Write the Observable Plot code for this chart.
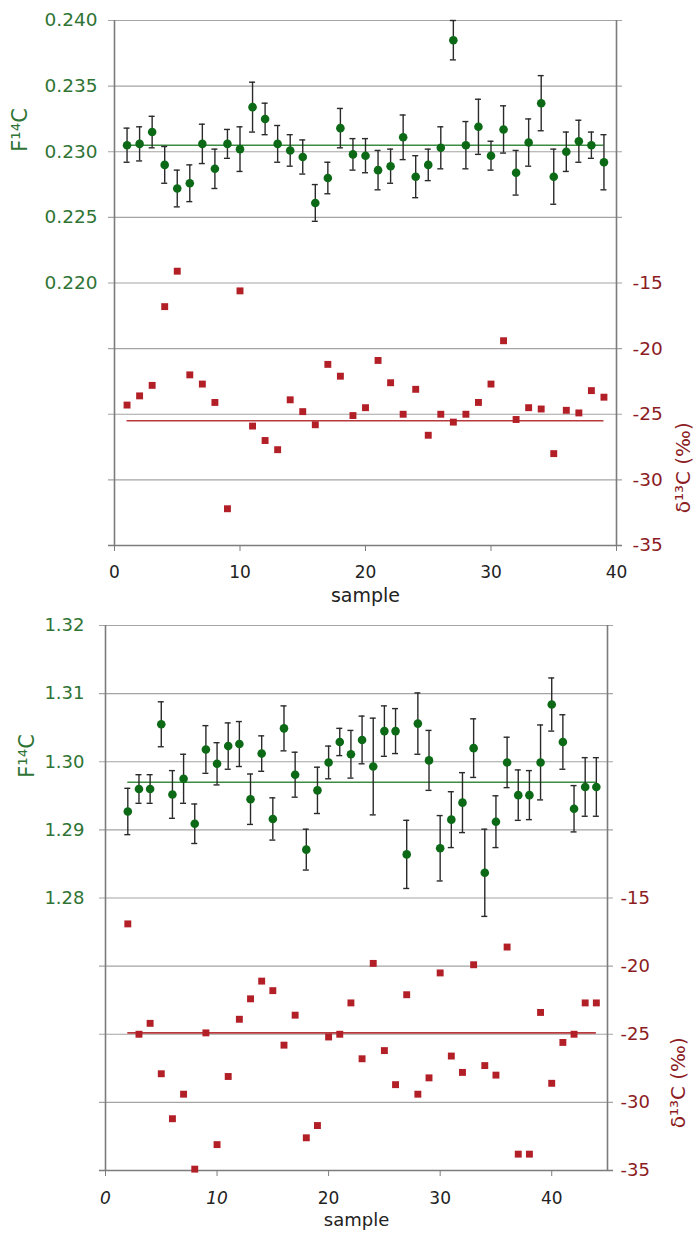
<!DOCTYPE html>
<html>
<head>
<meta charset="utf-8">
<script src="https://cdn.jsdelivr.net/npm/d3@7"></script>
<script src="https://cdn.jsdelivr.net/npm/@observablehq/plot@0.6"></script>
<style>
  body { margin: 0; background: #fff; }
  #chart { width: 695px; }
  #chart svg { display: block; }
</style>
</head>
<body>
<div id="chart"></div>
<script>
// ---------- Panel A (top) ----------
const samplesA = [1,2,3,4,5,6,7,8,9,10,11,12,13,14,15,16,17,18,19,20,21,22,23,24,25,26,27,28,29,30,31,32,33,34,35,36,37,38,39];
const f14A = [0.2305,0.2306,0.2315,0.2290,0.2272,0.2276,0.2306,0.2287,0.2306,0.2302,
              0.2334,0.2325,0.2306,0.2301,0.2296,0.2261,0.2280,0.2318,0.2298,0.2297,
              0.2286,0.2289,0.2311,0.2281,0.2290,0.2303,0.2385,0.2305,0.2319,0.2297,
              0.2317,0.2284,0.2307,0.2337,0.2281,0.2300,0.2308,0.2305,0.2292];
const f14ErrA = [0.0013,0.0013,0.0012,0.0014,0.0014,0.0014,0.0015,0.0015,0.0011,0.0017,
                 0.0019,0.0012,0.0014,0.0012,0.0013,0.0014,0.0012,0.0015,0.0012,0.0013,
                 0.0015,0.0013,0.0017,0.0016,0.0012,0.0016,0.0015,0.0018,0.0021,0.0011,
                 0.0018,0.0017,0.0018,0.0021,0.0021,0.0015,0.0016,0.0010,0.0021];
const d13A = [-24.3,-23.6,-22.8,-16.8,-14.1,-22.0,-22.7,-24.1,-32.2,-15.6,
              -25.9,-27.0,-27.7,-23.9,-24.8,-25.8,-21.2,-22.1,-25.1,-24.5,
              -20.9,-22.6,-25.0,-23.1,-26.6,-25.0,-25.6,-25.0,-24.1,-22.7,
              -19.4,-25.4,-24.5,-24.6,-28.0,-24.7,-24.9,-23.2,-23.7];
const f14MeanA = 0.2305;
const d13MeanA = -25.5;
const xDomainA = [0, 40];
const xTicksA = [0, 10, 20, 30, 40];
const fDomainA = [0.200, 0.240];
const fTicksA = [0.220, 0.225, 0.230, 0.235, 0.240];

// ---------- Panel B (bottom) ----------
const samplesB = [2,3,4,5,6,7,8,9,10,11,12,13,14,15,16,17,18,19,20,21,22,23,24,25,26,27,28,29,30,31,32,33,34,35,36,37,38,39,40,41,42,43,44];
const f14B = [1.2927,1.2960,1.2960,1.3055,1.2952,1.2975,1.2909,1.3018,1.2997,1.3023,
              1.3026,1.2945,1.3012,1.2916,1.3049,1.2981,1.2871,1.2958,1.2999,1.3029,
              1.3011,1.3032,1.2993,1.3045,1.3045,1.2864,1.3056,1.3002,1.2873,1.2915,
              1.2940,1.3020,1.2837,1.2912,1.2999,1.2951,1.2951,1.2999,1.3084,1.3029,
              1.2931,1.2963,1.2963];
const f14ErrB = [0.0034,0.0021,0.0021,0.0033,0.0035,0.0036,0.0029,0.0035,0.0031,0.0034,
                 0.0033,0.0037,0.0026,0.0031,0.0033,0.0033,0.0030,0.0034,0.0024,0.0020,
                 0.0035,0.0035,0.0071,0.0037,0.0033,0.0050,0.0045,0.0044,0.0048,0.0041,
                 0.0044,0.0043,0.0064,0.0038,0.0037,0.0037,0.0036,0.0055,0.0039,0.0040,
                 0.0034,0.0043,0.0043];
const d13B = [-16.9,-25.0,-24.2,-27.9,-31.2,-29.4,-34.9,-24.9,-33.1,-28.1,
              -23.9,-22.4,-21.1,-21.8,-25.8,-23.6,-32.6,-31.7,-25.2,-25.0,
              -22.7,-26.8,-19.8,-26.2,-28.7,-22.1,-29.4,-28.2,-20.5,-26.6,
              -27.8,-19.9,-27.3,-28.0,-18.6,-33.8,-33.8,-23.4,-28.6,-25.6,
              -25.0,-22.7,-22.7];
const f14MeanB = 1.2970;
const d13MeanB = -24.9;
const xDomainB = [0, 45];
const xTicksB = [0, 10, 20, 30, 40];
const fDomainB = [1.24, 1.32];
const fTicksB = [1.28, 1.29, 1.30, 1.31, 1.32];

// shared right axis
const dDomain = [-35, 5];
const dTicks = [-15, -20, -25, -30, -35];

const GREEN_TXT = "#2f7434";
const GREEN_DOT = "#0c6a16";
const GREEN_LINE = "#3d8c43";
const RED_TXT = "#8c1c1f";
const RED_DOT = "#b31f27";
const RED_LINE = "#b8393c";
const GRID = "#a4a4a4";
const AXIS = "#7c7c7c";
const FONT = "'DejaVu Sans', Verdana, sans-serif";

function panel(c) {
  const [f0, f1] = c.fDomain, [d0, d1] = dDomain;
  const toY = d => f0 + (d - d0) / (d1 - d0) * (f1 - f0);
  const fromY = y => d0 + (y - f0) / (f1 - f0) * (d1 - d0);
  const pts = c.samples.map((s, i) => ({s, f: c.f14[i], e: c.f14Err[i], d: toY(c.d13[i])}));
  const gridLevels = Array.from(new Set([...c.fTicks, ...dTicks.map(toY)].map(v => +v.toFixed(6))));
  const first = c.samples[0], last = c.samples[c.samples.length - 1];
  const fMid = d3.mean(c.fTicks);
  const dMid = toY(d3.mean(dTicks));

  return Plot.plot({
    width: 695,
    height: c.height,
    marginTop: c.marginTop,
    marginBottom: c.marginBottom,
    marginLeft: c.marginLeft,
    marginRight: c.marginRight,
    style: {fontFamily: FONT, fontSize: c.fontSize + "px", background: "#fff", overflow: "visible"},
    x: {domain: c.xDomain},
    y: {domain: c.fDomain},
    marks: [
      Plot.ruleY(gridLevels, {stroke: GRID, strokeWidth: 1.1, insetLeft: -6, insetRight: -6}),
      Plot.ruleY([c.fDomain[0]], {stroke: AXIS, strokeWidth: 1.6, insetLeft: -6, insetRight: -6}),
      Plot.ruleX(c.xDomain, {stroke: AXIS, strokeWidth: 1.6}),
      // δ13C mean and points
      Plot.ruleY([{y: toY(c.d13Mean), x1: first, x2: last}], {y: "y", x1: "x1", x2: "x2", stroke: RED_LINE, strokeWidth: 1.6}),
      Plot.dot(pts, {x: "s", y: "d", symbol: "square", r: 3.9, fill: RED_DOT}),
      // F14C mean
      Plot.ruleY([{y: c.f14Mean, x1: first, x2: last}], {y: "y", x1: "x1", x2: "x2", stroke: GREEN_LINE, strokeWidth: 1.6}),
      // error bars
      Plot.ruleX(pts, {x: "s", y1: d => d.f - d.e, y2: d => d.f + d.e, stroke: "#2a2a2a", strokeWidth: 1.4}),
      Plot.ruleY(pts, {x1: "s", x2: "s", y: d => d.f + d.e, insetLeft: -3, insetRight: -3, stroke: "#2a2a2a", strokeWidth: 1.4}),
      Plot.ruleY(pts, {x1: "s", x2: "s", y: d => d.f - d.e, insetLeft: -3, insetRight: -3, stroke: "#2a2a2a", strokeWidth: 1.4}),
      Plot.dot(pts, {x: "s", y: "f", r: 4.3, fill: GREEN_DOT}),
      // axes
      Plot.axisX({ticks: c.xTicks, tickSize: 6, tickPadding: c.xPad, stroke: AXIS, fill: "#222", fontSize: c.xFont, label: null, tickFormat: d => String(d)}),
      Plot.axisY({ticks: c.fTicks, anchor: "left", tickSize: 0, tickPadding: c.leftPad, fill: GREEN_TXT, label: null, tickFormat: d3.format(c.fFormat)}),
      Plot.axisY({ticks: dTicks.map(toY), anchor: "right", tickSize: 0, tickPadding: c.rightPad, fill: RED_TXT, label: null, tickFormat: v => String(Math.round(fromY(v)))}),
      // axis titles
      Plot.text(["F¹⁴C"], {frameAnchor: "left", y: () => fMid, dx: c.fLabelDx, dy: c.fLabelDy, rotate: -90, fill: GREEN_TXT, fontSize: 21, text: d => d}),
      Plot.text(["δ¹³C (‰)"], {frameAnchor: "right", y: () => dMid, dx: c.dLabelDx, dy: c.dLabelDy, rotate: -90, fill: RED_TXT, fontSize: 20, text: d => d}),
      Plot.text(["sample"], {frameAnchor: "bottom", dy: c.sampleDy, fill: "#222", fontSize: c.sampleFont, text: d => d})
    ]
  });
}

const chart = document.getElementById("chart");
const svgA = panel({
  samples: samplesA, f14: f14A, f14Err: f14ErrA, d13: d13A, f14Mean: f14MeanA, d13Mean: d13MeanA,
  xDomain: xDomainA, xTicks: xTicksA, fDomain: fDomainA, fTicks: fTicksA, fFormat: ".3f",
  height: 605, marginTop: 20, marginBottom: 60, marginLeft: 114, marginRight: 79,
  fontSize: 18.5, xFont: 17, xPad: 14, leftPad: 17, rightPad: 16, sampleDy: 56, sampleFont: 19,
  fLabelDx: -94, fLabelDy: 0, dLabelDx: 67, dLabelDy: 8
});
const svgB = panel({
  samples: samplesB, f14: f14B, f14Err: f14ErrB, d13: d13B, f14Mean: f14MeanB, d13Mean: d13MeanB,
  xDomain: xDomainB, xTicks: xTicksB, fDomain: fDomainB, fTicks: fTicksB, fFormat: ".2f",
  height: 628, marginTop: 20, marginBottom: 63, marginLeft: 105, marginRight: 88,
  fontSize: 18, xFont: 17, xPad: 15, leftPad: 21, rightPad: 13, sampleDy: 55, sampleFont: 18,
  fLabelDx: -78, fLabelDy: 16, dLabelDx: 71, dLabelDy: 3
});
chart.appendChild(svgA);
chart.appendChild(svgB);
// the lower panel's first two x tick labels are set in italics in the original
d3.select(svgB).selectAll("text").filter(function() { return this.textContent === "0" || this.textContent === "10"; }).style("font-style", "italic");
</script>
</body>
</html>
